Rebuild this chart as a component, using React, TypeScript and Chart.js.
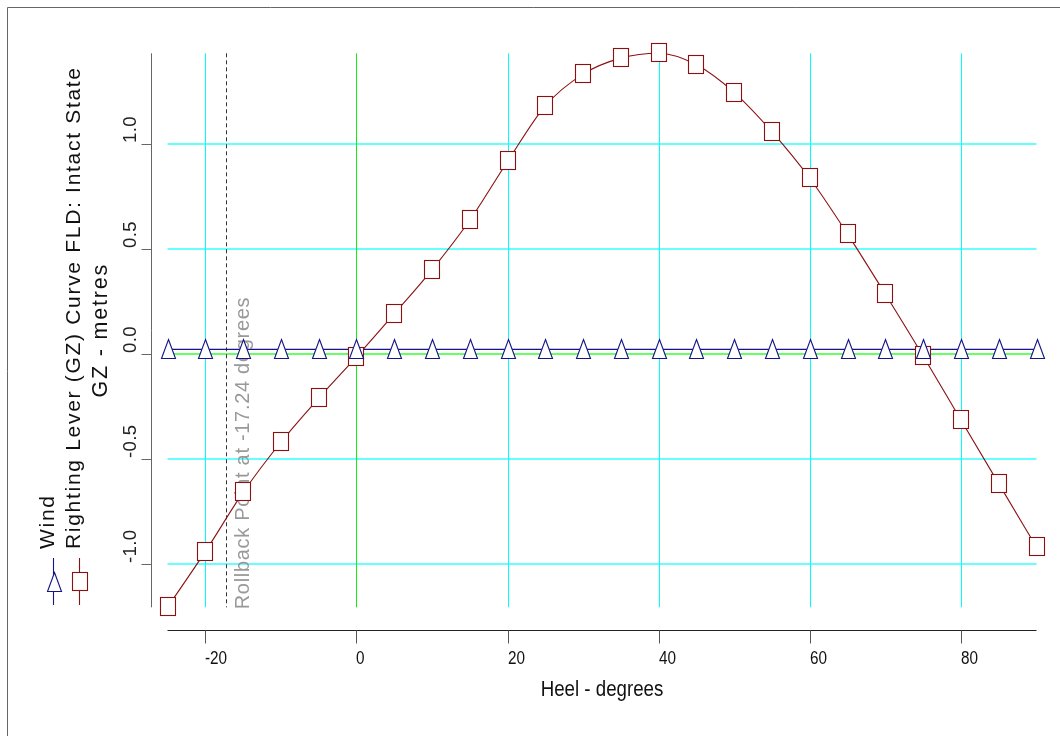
import React, { useEffect, useRef } from 'react';
import { Chart, registerables } from 'chart.js';

Chart.register(...registerables);

// ---------------- data ----------------
const heelDegrees = [-25, -20, -15, -10, -5, 0, 5, 10, 15, 20, 25, 30, 35, 40, 45, 50, 55, 60, 65, 70, 75, 80, 85, 90];
const gzMetres = [-1.207, -0.942, -0.66, -0.421, -0.212, -0.015, 0.19, 0.4, 0.636, 0.916, 1.181, 1.332, 1.408, 1.431, 1.376, 1.244, 1.057, 0.836, 0.57, 0.284, -0.01, -0.315, -0.618, -0.92];
const windLever = [0.021, 0.021, 0.021, 0.021, 0.021, 0.021, 0.021, 0.021, 0.021, 0.021, 0.021, 0.021, 0.021, 0.021, 0.021, 0.021, 0.021, 0.021, 0.021, 0.021, 0.021, 0.021, 0.021, 0.021];
const xTickStep = 20;
const yTickStep = 0.5;
const rollbackHeel = -17.24;
const legendLabels = ['Wind', 'Righting Lever (GZ) Curve FLD: Intact State'];
const xTitle = 'Heel - degrees';
const yTitle = 'GZ - metres';
const rollbackLabel = `Rollback Point at ${rollbackHeel} degrees`;

// ---------------- styles ----------------
const FONT = '"Liberation Sans", Arial, Helvetica, sans-serif';
const GZ_COLOR = '#8b1010';
const WIND_COLOR = '#141488';
const W = 1060;
const H = 736;

function drawSquare(ctx: CanvasRenderingContext2D, x: number, y: number) {
  const cx = Math.round(x);
  const cy = Math.round(y);
  ctx.save();
  ctx.fillStyle = '#ffffff';
  ctx.fillRect(cx - 7.5, cy - 9.5, 15, 18);
  ctx.strokeStyle = GZ_COLOR;
  ctx.lineWidth = 1.1;
  ctx.strokeRect(cx - 7.5, cy - 9.5, 15, 18);
  ctx.restore();
}

function drawTriangle(ctx: CanvasRenderingContext2D, x: number, y: number) {
  const cx = Math.round(x) + 0.5;
  const cy = Math.round(y);
  ctx.save();
  ctx.beginPath();
  ctx.moveTo(cx, cy - 9.5);
  ctx.lineTo(cx + 7, cy + 9.5);
  ctx.lineTo(cx - 7, cy + 9.5);
  ctx.closePath();
  ctx.fillStyle = '#ffffff';
  ctx.fill();
  ctx.strokeStyle = WIND_COLOR;
  ctx.lineWidth = 1.1;
  ctx.stroke();
  ctx.restore();
}

function rotatedText(ctx: CanvasRenderingContext2D, text: string, x: number, y: number, size: number, color: string, spacing: number, align: CanvasTextAlign) {
  ctx.save();
  ctx.translate(x, y);
  ctx.rotate(-Math.PI / 2);
  ctx.font = `${size}px ${FONT}`;
  (ctx as any).letterSpacing = `${spacing}px`;
  ctx.fillStyle = color;
  ctx.textAlign = align;
  ctx.textBaseline = 'alphabetic';
  ctx.fillText(text, 0, 0);
  ctx.restore();
}

function narrowText(ctx: CanvasRenderingContext2D, text: string, x: number, y: number, size: number, color: string, align: CanvasTextAlign) {
  ctx.save();
  ctx.translate(x, y);
  ctx.scale(0.85, 1);
  ctx.font = `${size}px ${FONT}`;
  ctx.fillStyle = color;
  ctx.textAlign = align;
  ctx.textBaseline = 'alphabetic';
  ctx.fillText(text, 0, 0);
  ctx.restore();
}

export default function App() {
  const ref = useRef<HTMLCanvasElement | null>(null);

  useEffect(() => {
    if (!ref.current) return;

    const decorations = {
      id: 'decorations',
      beforeDatasetsDraw(chart: any) {
        const ctx: CanvasRenderingContext2D = chart.ctx;
        const xs = chart.scales.x;
        const ys = chart.scales.y;
        const { left, right, top, bottom } = chart.chartArea;
        ctx.save();
        // horizontal grid
        ys.ticks.forEach((t: any) => {
          const py = Math.round(ys.getPixelForValue(t.value));
          ctx.strokeStyle = t.value === 0 ? '#66ff66' : '#66ffff';
          ctx.lineWidth = 2;
          ctx.beginPath();
          ctx.moveTo(left, py);
          ctx.lineTo(right, py);
          ctx.stroke();
        });
        // vertical grid
        xs.ticks.forEach((t: any) => {
          const px = Math.round(xs.getPixelForValue(t.value)) + 0.5;
          ctx.strokeStyle = t.value === 0 ? '#11ee11' : '#00ffff';
          ctx.lineWidth = 1;
          ctx.beginPath();
          ctx.moveTo(px, top);
          ctx.lineTo(px, bottom);
          ctx.stroke();
        });
        // rollback line
        const rx = xs.getPixelForValue(rollbackHeel);
        ctx.strokeStyle = '#333333';
        ctx.lineWidth = 1;
        ctx.setLineDash([4, 3]);
        ctx.beginPath();
        ctx.moveTo(Math.round(rx) + 0.5, top);
        ctx.lineTo(Math.round(rx) + 0.5, bottom);
        ctx.stroke();
        ctx.restore();
        rotatedText(ctx, rollbackLabel, rx + 23, bottom + 2, 20, '#999999', 0.7, 'left');
      },
      afterDatasetsDraw(chart: any) {
        const ctx: CanvasRenderingContext2D = chart.ctx;
        const gzMeta = chart.getDatasetMeta(1);
        gzMeta.data.forEach((p: any) => drawSquare(ctx, p.x, p.y));
        const windMeta = chart.getDatasetMeta(0);
        windMeta.data.forEach((p: any) => drawTriangle(ctx, p.x, p.y));
      },
      afterDraw(chart: any) {
        const ctx: CanvasRenderingContext2D = chart.ctx;
        const xs = chart.scales.x;
        const ys = chart.scales.y;
        const { left, right, top, bottom } = chart.chartArea;

        // outer frame
        ctx.save();
        ctx.strokeStyle = '#666666';
        ctx.lineWidth = 1;
        ctx.beginPath();
        ctx.moveTo(7.5, H);
        ctx.lineTo(7.5, 7.5);
        ctx.lineTo(W, 7.5);
        ctx.stroke();

        // x axis
        const axisY = Math.round(bottom + 23) + 0.5;
        ctx.strokeStyle = '#222222';
        ctx.beginPath();
        ctx.moveTo(xs.getPixelForValue(xs.min), axisY);
        ctx.lineTo(xs.getPixelForValue(xs.max), axisY);
        ctx.stroke();
        ctx.strokeStyle = '#555555';
        xs.ticks.forEach((t: any) => {
          const px = Math.round(xs.getPixelForValue(t.value)) + 0.5;
          ctx.beginPath();
          ctx.moveTo(px, axisY);
          ctx.lineTo(px, axisY + 13);
          ctx.stroke();
          narrowText(ctx, String(t.value), px - 0.5, axisY + 33, 18, '#111111', 'left');
        });
        narrowText(ctx, xTitle, (left + right) / 2, axisY + 65.5, 22, '#111111', 'center');

        // y axis
        const axisX = Math.round(left - 17) + 0.5;
        ctx.strokeStyle = '#666666';
        ctx.beginPath();
        ctx.moveTo(axisX, ys.getPixelForValue(ys.max));
        ctx.lineTo(axisX, ys.getPixelForValue(ys.min));
        ctx.stroke();
        ys.ticks.forEach((t: any) => {
          const py = Math.round(ys.getPixelForValue(t.value)) + 0.5;
          ctx.beginPath();
          ctx.moveTo(axisX, py);
          ctx.lineTo(axisX - 10, py);
          ctx.stroke();
          rotatedText(ctx, t.value.toFixed(1), axisX - 16, py - 1.5, 18.5, '#222222', 0.4, 'left');
        });
        ctx.restore();

        // y title
        rotatedText(ctx, yTitle, 106.5, (top + bottom) / 2, 21.5, '#111111', 1.8, 'center');

        // legend (rotated)
        const legendY = 581.5;
        const items = [
          { label: legendLabels[0], x: 53.5, color: WIND_COLOR, draw: drawTriangle },
          { label: legendLabels[1], x: 79.5, color: GZ_COLOR, draw: drawSquare },
        ];
        items.forEach((it) => {
          ctx.save();
          ctx.strokeStyle = it.color;
          ctx.lineWidth = 1.1;
          ctx.beginPath();
          ctx.moveTo(it.x, legendY - 23.5);
          ctx.lineTo(it.x, legendY + 23.5);
          ctx.stroke();
          ctx.restore();
          it.draw(ctx, it.x, legendY);
          rotatedText(ctx, it.label, it.x, 549, 21, '#111111', 1.7, 'left');
        });
      },
    };

    const chart = new Chart(ref.current, {
      type: 'line',
      data: {
        datasets: [
          {
            label: legendLabels[0],
            data: heelDegrees.map((h, i) => ({ x: h, y: windLever[i] })),
            borderColor: WIND_COLOR,
            borderWidth: 1.1,
            pointRadius: 0,
            pointHoverRadius: 0,
            tension: 0,
            clip: false as any,
          },
          {
            label: legendLabels[1],
            data: heelDegrees.map((h, i) => ({ x: h, y: gzMetres[i] })),
            borderColor: GZ_COLOR,
            borderWidth: 1.1,
            pointRadius: 0,
            pointHoverRadius: 0,
            cubicInterpolationMode: 'monotone',
            clip: false as any,
          },
        ],
      },
      options: {
        animation: false,
        responsive: false,
        devicePixelRatio: 1,
        events: [],
        layout: { padding: { top: 53.3, right: 23.5, left: 0, bottom: 0 } },
        plugins: {
          legend: { display: false },
          tooltip: { enabled: false },
        },
        scales: {
          x: {
            type: 'linear',
            min: heelDegrees[0],
            max: heelDegrees[heelDegrees.length - 1],
            ticks: { display: false, stepSize: xTickStep, includeBounds: false },
            grid: { display: false },
            border: { display: false },
            afterFit: (s: any) => {
              s.height = 128.7;
            },
          },
          y: {
            type: 'linear',
            min: Math.min(...gzMetres),
            max: Math.max(...gzMetres),
            ticks: { display: false, stepSize: yTickStep, includeBounds: false },
            grid: { display: false },
            border: { display: false },
            afterFit: (s: any) => {
              s.width = 167.5;
            },
          },
        },
      } as any,
      plugins: [decorations],
    });

    return () => chart.destroy();
  }, []);

  return (
    <div style={{ position: 'absolute', left: 0, top: 0, width: W, height: H, background: '#ffffff' }}>
      <canvas ref={ref} width={W} height={H} style={{ display: 'block', width: W, height: H }} />
    </div>
  );
}
